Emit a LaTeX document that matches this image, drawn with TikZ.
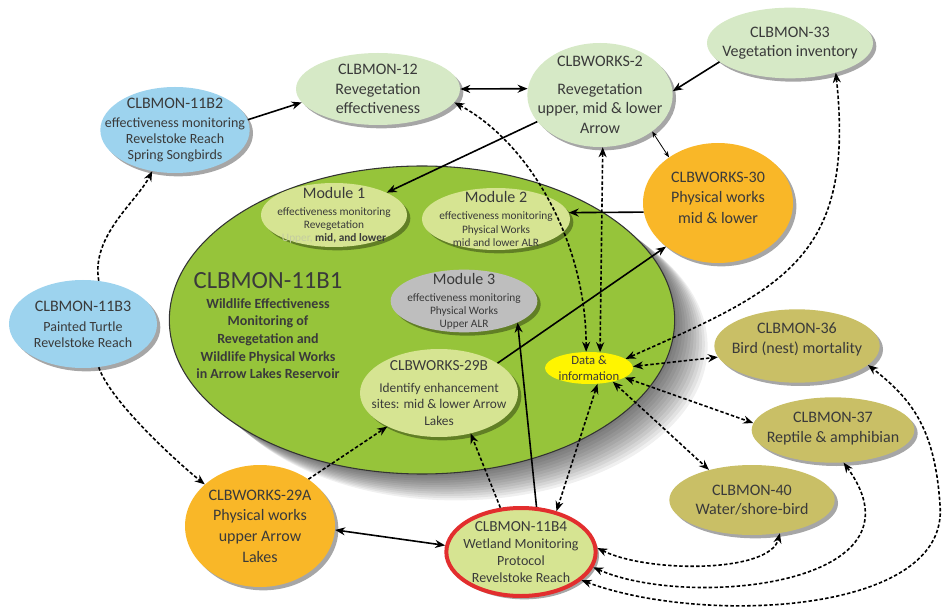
\documentclass[tikz,border=0pt]{standalone}
\usepackage{fontspec}
\setmainfont{Carlito}
\usetikzlibrary{shapes.geometric, shadows, arrows.meta}

\definecolor{txt}{RGB}{58,58,58}
\definecolor{fadetxt}{RGB}{196,204,160}
\definecolor{mintfill}{RGB}{214,233,198}
\definecolor{skyfill}{RGB}{157,211,238}
\definecolor{amberfill}{RGB}{249,183,40}
\definecolor{leaffill}{RGB}{150,196,58}
\definecolor{limefill}{RGB}{214,228,146}
\definecolor{stonefill}{RGB}{190,190,190}
\definecolor{khakifill}{RGB}{201,191,102}
\definecolor{infofill}{RGB}{255,245,0}
\definecolor{alertred}{RGB}{226,46,46}

\tikzset{
  bubble/.style={ellipse, inner sep=0pt,
    drop shadow={shadow xshift=2.5pt, shadow yshift=-2.5pt, opacity=0.35, fill=black}},
  lbl/.style={align=center, text=txt, inner sep=0pt, font=\fontsize{12}{14.6}\selectfont},
  lblsmall/.style={lbl, font=\fontsize{10.5}{12}\selectfont},
  lbltiny/.style={lbl, font=\fontsize{8.5}{9.8}\selectfont},
  link/.style={line width=1.2pt, ->},
  dlink/.style={link, dash pattern=on 2.6pt off 1.6pt},
}

\begin{document}
\begin{tikzpicture}[x=0.75pt, y=-0.75pt, >={Stealth[length=7.5pt, width=6pt]}]
  \useasboundingbox (0,0) rectangle (945,609);

  % Soft shadow under the reservoir ellipse
  \foreach \s in {1,...,12}
    \fill[black, opacity=0.06] (422+2.8*\s, 320+2.2*\s) ellipse [x radius=252, y radius=154];

  % Reservoir ellipse and its title
  \node[ellipse, draw=black!80, line width=0.8pt, fill=leaffill, minimum width=379pt, minimum height=231pt] (big) at (422,320) {};
  \node[lbl, font=\fontsize{10.5}{13.3}\selectfont\bfseries] (title) at (268,326)
    {{\mdseries\fontsize{18.5}{20}\selectfont CLBMON-11B1}\\[1pt]Wildlife Effectiveness\\Monitoring of\\Revegetation and\\Wildlife Physical Works\\in Arrow Lakes Reservoir};

  % Modules inside the reservoir
  \node[bubble, fill=limefill, minimum width=109.5pt, minimum height=48pt,
    label={[lbltiny]center:{{\fontsize{12}{13}\selectfont Module 1}\\[3pt]effectiveness monitoring\\Revegetation\\\textcolor{fadetxt}{Upper,} \textbf{mid, and lower}}}] (mod1) at (334,215) {};
  \node[bubble, fill=limefill, minimum width=111pt, minimum height=46.5pt,
    label={[lbltiny]center:{{\fontsize{12}{13}\selectfont Module 2}\\[3pt]effectiveness monitoring\\Physical Works\\mid and lower ALR}}] (mod2) at (496,219) {};
  \node[bubble, fill=stonefill, minimum width=110pt, minimum height=47pt,
    label={[lbltiny]center:{{\fontsize{12}{13}\selectfont Module 3}\\[3pt]effectiveness monitoring\\Physical Works\\Upper ALR}}] (mod3) at (464,301) {};
  \node[bubble, fill=limefill, minimum width=118.5pt, minimum height=66pt,
    label={[lbl, font=\fontsize{10}{12.4}\selectfont]center:{{\fontsize{11.5}{13}\selectfont CLBWORKS-29B}\\[4pt]Identify enhancement\\sites: mid \& lower Arrow\\Lakes}}] (w29b) at (439,393) {};
  \node[ellipse, inner sep=0pt, fill=infofill, minimum width=66pt, minimum height=24pt,
    label={[lbl, font=\fontsize{9.5}{12}\selectfont]center:{Data \&\\information}}] (data) at (589,368) {};

  % Programs around the reservoir
  \node[bubble, fill=mintfill, minimum width=123pt, minimum height=54pt,
    label={[lbl]center:{CLBMON-12\\Revegetation\\effectiveness}}] (m12) at (378,89) {};
  \node[bubble, fill=skyfill, minimum width=112pt, minimum height=64.5pt,
    label={[lblsmall]center:{{\fontsize{12}{14}\selectfont CLBMON-11B2}\\[2pt]effectiveness monitoring\\Revelstoke Reach\\Spring Songbirds}}] (m11b2) at (175,130) {};
  \node[bubble, fill=mintfill, minimum width=109pt, minimum height=78pt,
    label={[lbl]center:{CLBWORKS-2\\[6pt]Revegetation\\upper, mid \& lower\\Arrow}}] (w2) at (600,95) {};
  \node[bubble, fill=mintfill, minimum width=124.5pt, minimum height=53pt,
    label={[lbl]center:{CLBMON-33\\Vegetation inventory}}] (m33) at (790,43) {};
  \node[bubble, fill=amberfill, minimum width=112.5pt, minimum height=90pt,
    label={[lbl, font=\fontsize{12}{15.5}\selectfont, yshift=4pt]center:{CLBWORKS-30\\Physical works\\mid \& lower}}] (w30) at (718,203) {};
  \node[bubble, fill=skyfill, minimum width=111pt, minimum height=66pt,
    label={[lblsmall]center:{{\fontsize{12}{14}\selectfont CLBMON-11B3}\\[3pt]Painted Turtle\\Revelstoke Reach}}] (m11b3) at (83,324) {};
  \node[bubble, fill=amberfill, minimum width=112.5pt, minimum height=91.5pt,
    label={[lbl, font=\fontsize{12}{15.5}\selectfont]center:{CLBWORKS-29A\\Physical works\\upper Arrow\\Lakes}}] (w29a) at (260,526) {};
  \node[bubble, fill=limefill, draw=alertred, line width=3pt, minimum width=112pt, minimum height=66pt,
    label={[lbl, font=\fontsize{10.5}{12.7}\selectfont]center:{{\fontsize{11.5}{13}\selectfont CLBMON-11B4}\\Wetland Monitoring\\Protocol\\Revelstoke Reach}}] (m11b4) at (521,552) {};
  \node[bubble, fill=khakifill, minimum width=124pt, minimum height=55pt,
    label={[lbl, yshift=5pt]center:{CLBMON-36\\Bird (nest) mortality}}] (m36) at (797,346) {};
  \node[bubble, fill=khakifill, minimum width=122pt, minimum height=49pt,
    label={[lbl, yshift=1pt]center:{CLBMON-37\\Reptile \& amphibian}}] (m37) at (833,430) {};
  \node[bubble, fill=khakifill, minimum width=124pt, minimum height=52.5pt,
    label={[lbl]center:{CLBMON-40\\Water/shore-bird}}] (m40) at (752,500) {};

  % Solid links
  \draw[link] (m11b2.8) -- (m12.190);
  \draw[link, <->] (m12.east) -- (w2.175);
  \draw[link] (m33.195) -- (w2.3);
  \draw[link] (w2.203) -- (mod1.23);
  \draw[<->, line width=0.6pt, >={Stealth[length=4.5pt, width=3.5pt]}] (w2.-35) -- (w30.137);
  \draw[link] (w30.187) -- (mod2.5);
  \draw[link] (w29b.27) -- (w30.220);
  \draw[link] (m11b4.71) -- (mod3.-22);
  \draw[link, <->] (w29a.-3) -- (m11b4.175);

  % Dashed links
  \draw[dlink] (m11b3.70) .. controls +(-8,-45) and +(-15,30) .. (m11b2.241);
  \draw[dlink] (m11b3.-70) .. controls +(12,35) and +(-25,-20) .. (w29a.143);
  \draw[dlink] (w29a.44) -- (w29b.213);
  \draw[dlink] (m11b4.115) -- (w29b.-52);
  \draw[dlink, <->] (m11b4.49) -- (data.-62);
  \draw[dlink, <->] (m12.-10) .. controls +(75,40) and +(0,-110) .. (data.100);
  \draw[dlink, <->] (w2.-87) -- (data.55);
  \draw[dlink, <->] (m33.-33) .. controls +(20,187) and +(155,-69) .. (data.14);
  \draw[dlink, <->] (data.2) -- (m36.188);
  \draw[dlink, <->] (data.-15) -- (m37.175);
  \draw[dlink, <->] (data.-30) -- (m40.145);
  \draw[dlink, <->] (m11b4.3) .. controls +(50,25) and +(-10,40) .. (m40.-50);
  \draw[dlink, <->] (m11b4.-12) .. controls +(95,42) and +(90,123) .. (m37.-72);
  \coordinate (bend36) at (940,505);
  \draw[dlink, <->] (m11b4.-25) .. controls +(120,45) and +(10,110) .. (bend36)
    .. controls +(-5,-75) and +(45,35) .. (m36.-15);
\end{tikzpicture}
\end{document}
